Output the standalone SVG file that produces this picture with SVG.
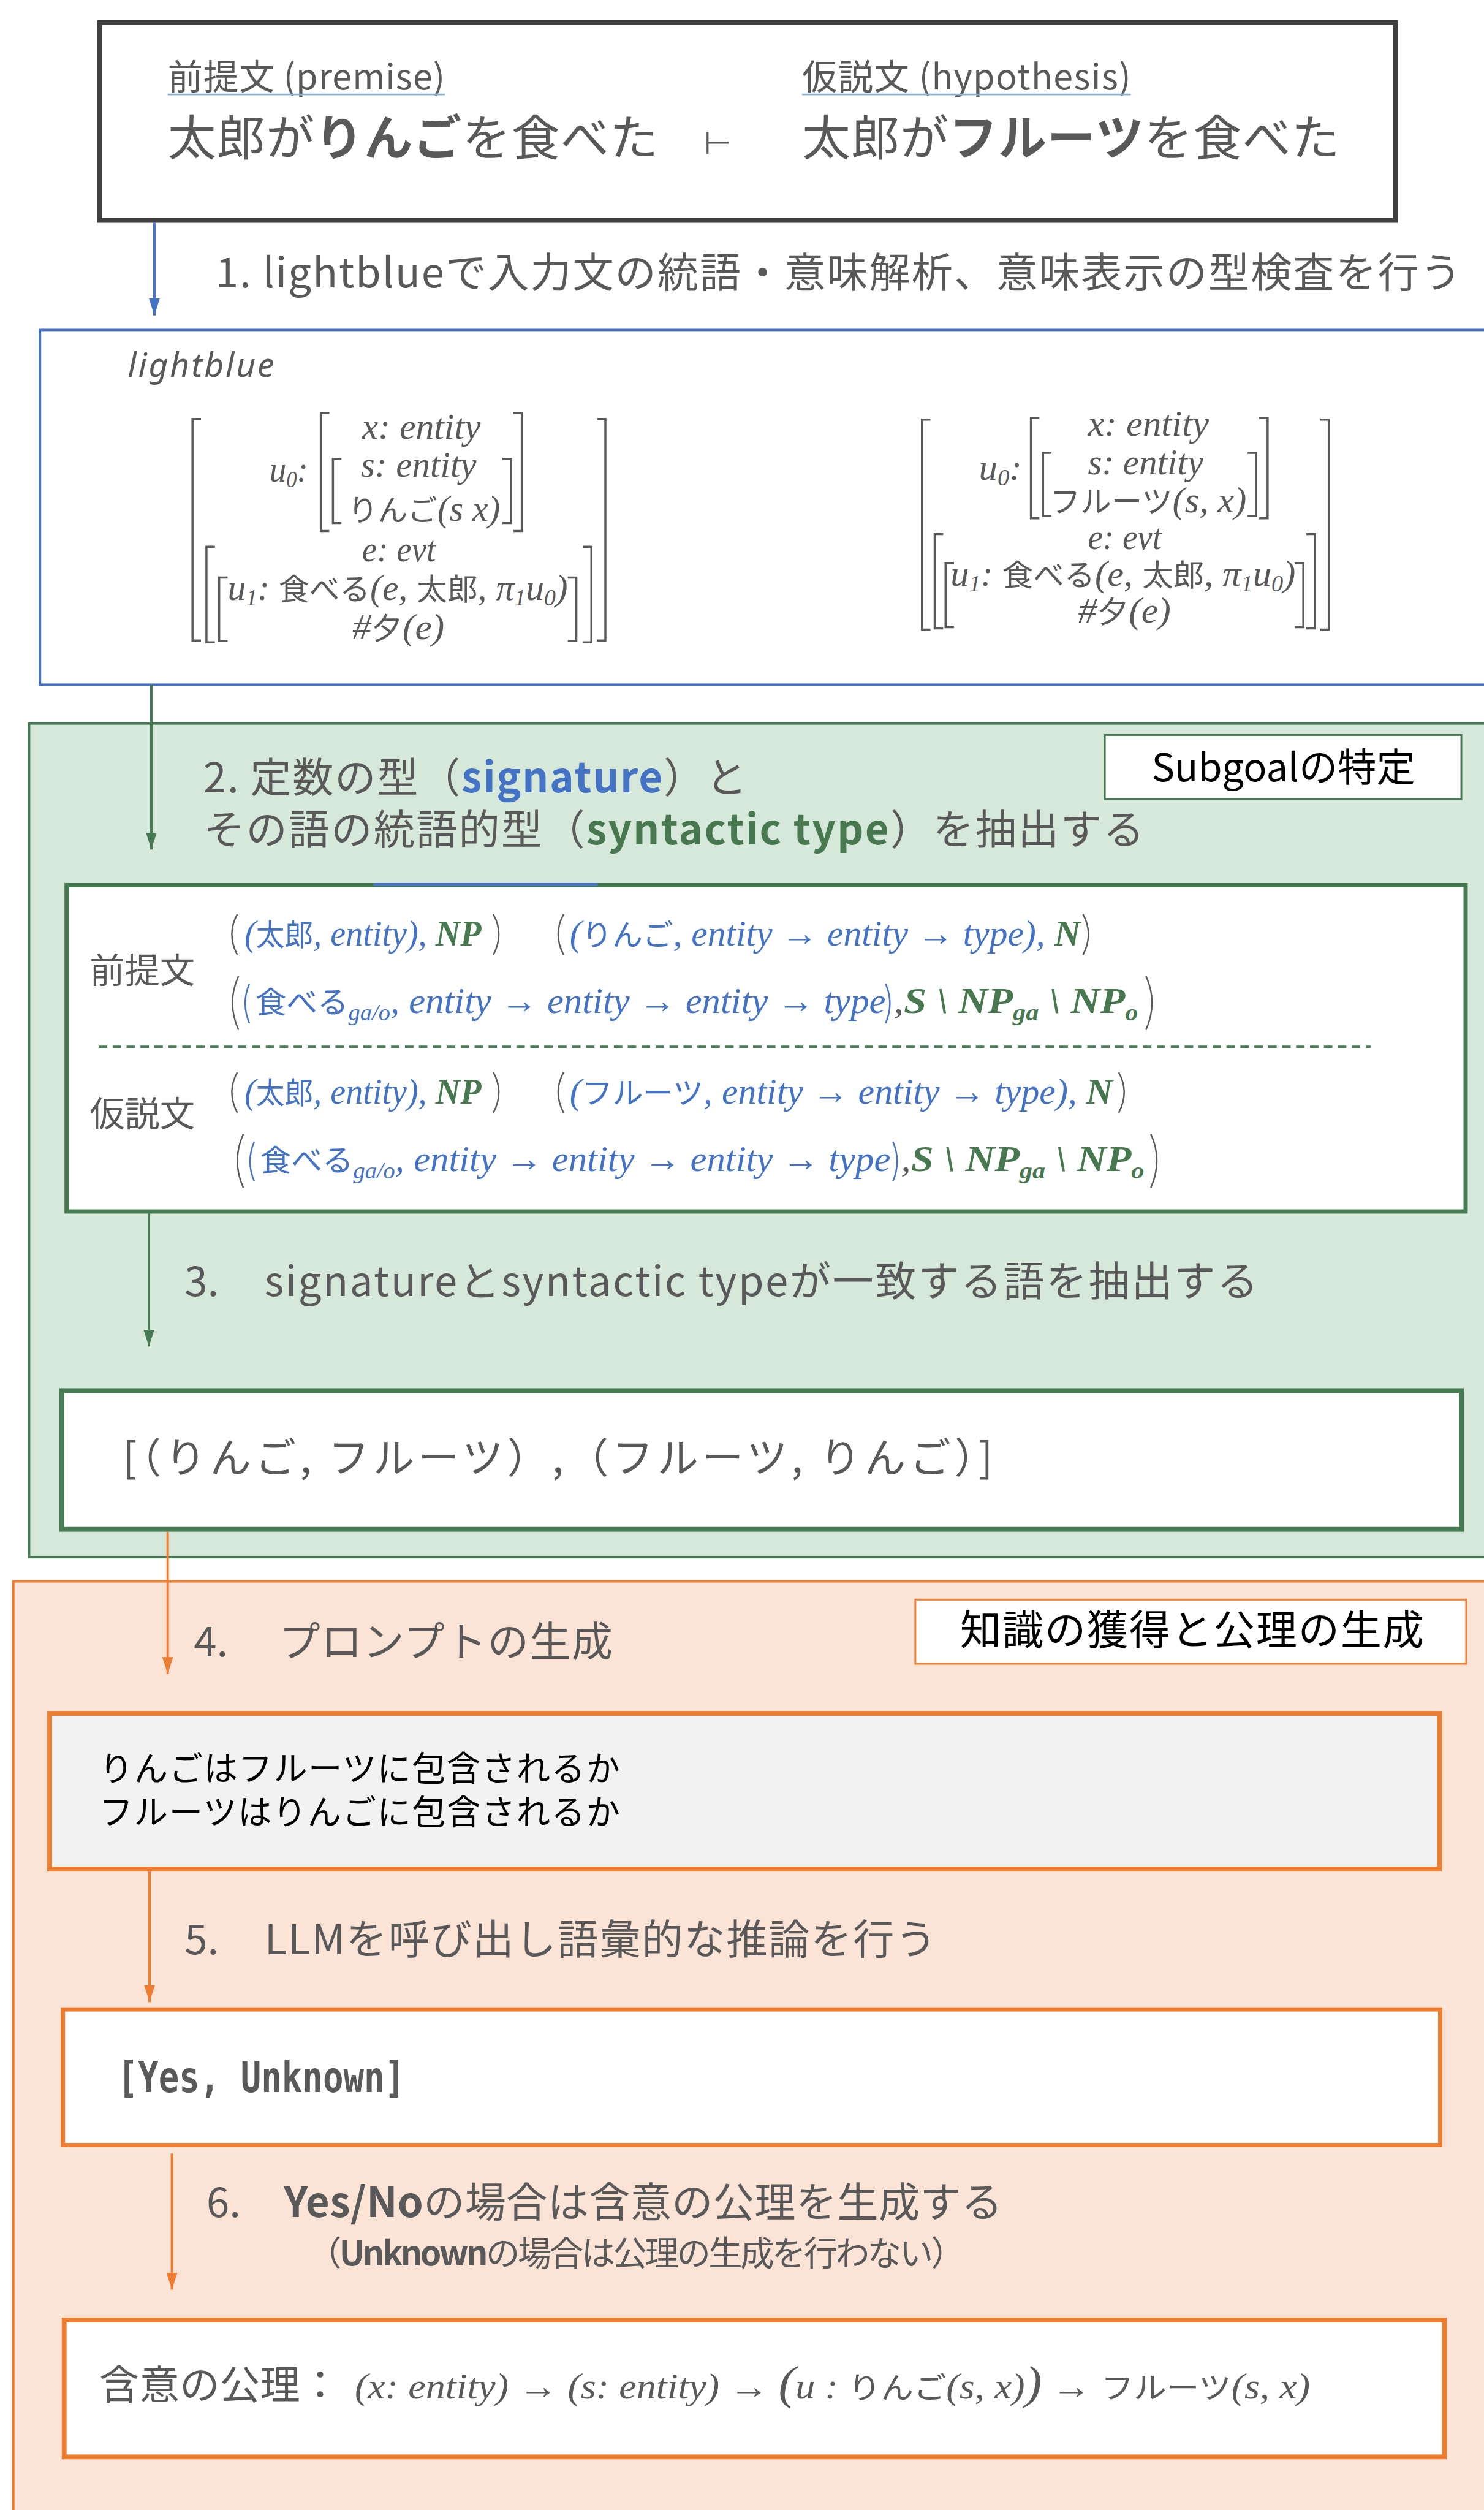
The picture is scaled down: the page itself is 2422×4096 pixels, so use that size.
<svg xmlns="http://www.w3.org/2000/svg" width="2422" height="4096" viewBox="0 0 2422 4096">
<defs>
<style>
.t{font-family:"Noto Sans CJK JP","Noto Sans",sans-serif;fill:#595959}
.k{fill:#000}
.m{font-family:"Liberation Serif","Noto Sans CJK JP",serif;font-style:italic;fill:#595959;font-size:60px}
.mb{fill:#4472c4}
.jp{font-family:"Noto Sans CJK JP",sans-serif;font-style:normal;font-size:50px}
.gb{fill:#47784f;font-weight:bold}
.br{fill:none;stroke:#595959;stroke-width:3.5}
.pb{fill:none;stroke:#595959;stroke-width:2.5}
.pm{fill:none;stroke:#4472c4;stroke-width:2.5}
.c{fill:none;stroke-width:4}
</style>
<marker id="ab" markerUnits="userSpaceOnUse" markerWidth="28" markerHeight="18" refX="28" refY="9" orient="auto"><path d="M0,0 L28,9 L0,18 z" fill="#4472c4"/></marker>
<marker id="ag" markerUnits="userSpaceOnUse" markerWidth="28" markerHeight="18" refX="28" refY="9" orient="auto"><path d="M0,0 L28,9 L0,18 z" fill="#467a55"/></marker>
<marker id="ao" markerUnits="userSpaceOnUse" markerWidth="28" markerHeight="18" refX="28" refY="9" orient="auto"><path d="M0,0 L28,9 L0,18 z" fill="#ed7d31"/></marker>
</defs>
<rect width="2422" height="4096" fill="#fff"/>
<g transform="scale(0.988)">

<g id="sections">
<rect x="48" y="1195" width="2450" height="1377" fill="#d5e8d9" stroke="#467a55" stroke-width="4"/>
<rect x="22" y="2612" width="2500" height="1600" fill="#fbe3d6" stroke="#ed7d31" stroke-width="4"/>
</g>

<g id="sentences">
<rect x="164" y="37" width="2141" height="327" fill="#fff" stroke="#404040" stroke-width="8"/>
<text class="t" x="277" y="148" font-size="58" textLength="458">前提文 (premise)</text>
<line x1="277" y1="156" x2="735" y2="156" stroke="#8eb4d3" stroke-width="3"/>
<text class="t" x="1325" y="148" font-size="58" textLength="543">仮説文 (hypothesis)</text>
<line x1="1325" y1="156" x2="1868" y2="156" stroke="#8eb4d3" stroke-width="3"/>
<text class="t" x="277" y="257" font-size="80" textLength="810">太郎が<tspan font-weight="bold">りんご</tspan>を食べた</text>
<text x="1163" y="254" font-size="52" font-family="DejaVu Sans,sans-serif" fill="#595959">⊢</text>
<text class="t" x="1325" y="257" font-size="80" textLength="888">太郎が<tspan font-weight="bold">フルーツ</tspan>を食べた</text>
</g>

<g id="step1-label">
<text class="t" x="356" y="475" font-size="68" textLength="2058">1. lightblueで入力文の統語・意味解析、意味表示の型検査を行う</text>
</g>

<g id="lightblue">
<rect x="66" y="545" width="2450" height="586" fill="#fff" stroke="#4472c4" stroke-width="4"/>
<text x="211" y="622" font-size="56" font-style="italic" font-family="Noto Sans,sans-serif" fill="#595959" textLength="242">lightblue</text>
<path class="br" d="M332,692 H318 V1058 H332 M986,692 H1000 V1058 H986 M544,682 H530 V877 H544 M848,682 H862 V877 H848 M564,758 H550 V864 H564 M830,758 H844 V864 H830 M355,903 H341 V1061 H355 M963,903 H977 V1061 H963 M376,954 H362 V1059 H376 M938,954 H952 V1059 H938"/>
<text class="m" x="598" y="725" textLength="196" lengthAdjust="spacingAndGlyphs">x: entity</text>
<text class="m" x="445" y="796" textLength="64" lengthAdjust="spacingAndGlyphs">u<tspan font-size="38" dy="9">0</tspan><tspan dy="-9">:</tspan></text>
<text class="m" x="596" y="787" textLength="191" lengthAdjust="spacingAndGlyphs">s: entity</text>
<text class="m" x="575" y="860" textLength="251" lengthAdjust="spacingAndGlyphs"><tspan class="jp">りんご</tspan>(s x)</text>
<text class="m" x="598" y="927" textLength="122" lengthAdjust="spacingAndGlyphs">e: evt</text>
<text class="m" x="376" y="991" textLength="562" lengthAdjust="spacingAndGlyphs">u<tspan font-size="38" dy="9">1</tspan><tspan dy="-9">: </tspan><tspan class="jp">食べる</tspan>(e, <tspan class="jp">太郎</tspan>, π<tspan font-size="38" dy="9">1</tspan><tspan dy="-9">u</tspan><tspan font-size="38" dy="9">0</tspan><tspan dy="-9">)</tspan></text>
<text class="m" x="582" y="1056" textLength="152" lengthAdjust="spacingAndGlyphs">#<tspan class="jp">夕</tspan>(e)</text>

<path class="br" d="M1537,693 H1523 V1040 H1537 M2181,693 H2195 V1040 H2181 M1717,690 H1703 V856 H1717 M2080,690 H2094 V856 H2080 M1737,748 H1723 V852 H1737 M2061,748 H2075 V852 H2061 M1558,882 H1544 V1038 H1558 M2158,882 H2172 V1038 H2158 M1576,930 H1562 V1036 H1576 M2139,930 H2153 V1036 H2139"/>
<text class="m" x="1797" y="720" textLength="200" lengthAdjust="spacingAndGlyphs">x: entity</text>
<text class="m" x="1617" y="793" textLength="71" lengthAdjust="spacingAndGlyphs">u<tspan font-size="38" dy="9">0</tspan><tspan dy="-9">:</tspan></text>
<text class="m" x="1797" y="783" textLength="191" lengthAdjust="spacingAndGlyphs">s: entity</text>
<text class="m" x="1734" y="846" textLength="325" lengthAdjust="spacingAndGlyphs"><tspan class="jp">フルーツ</tspan>(s, x)</text>
<text class="m" x="1797" y="907" textLength="122" lengthAdjust="spacingAndGlyphs">e: evt</text>
<text class="m" x="1570" y="968" textLength="570" lengthAdjust="spacingAndGlyphs">u<tspan font-size="38" dy="9">1</tspan><tspan dy="-9">: </tspan><tspan class="jp">食べる</tspan>(e, <tspan class="jp">太郎</tspan>, π<tspan font-size="38" dy="9">1</tspan><tspan dy="-9">u</tspan><tspan font-size="38" dy="9">0</tspan><tspan dy="-9">)</tspan></text>
<text class="m" x="1781" y="1028" textLength="153" lengthAdjust="spacingAndGlyphs">#<tspan class="jp">夕</tspan>(e)</text>
</g>

<g id="step2-label">
<text class="t" x="336" y="1309" font-size="68" textLength="898">2. 定数の型（<tspan font-weight="bold" fill="#4472c4">signature</tspan>）と</text>
<text class="t" x="336" y="1395" font-size="68" textLength="1554">その語の統語的型（<tspan font-weight="bold" fill="#47784f">syntactic type</tspan>）を抽出する</text>
</g>

<g id="subgoal-tag">
<rect x="1825" y="1214" width="589" height="106" fill="#fff" stroke="#467a55" stroke-width="3"/>
<text class="t k" x="2120" y="1290" font-size="64" text-anchor="middle">Subgoalの特定</text>
</g>

<g id="signatures">
<rect x="110" y="1462" width="2311" height="539" fill="#fff" stroke="#467a52" stroke-width="7"/>
<line x1="617" y1="1461" x2="987" y2="1461" stroke="#4472c4" stroke-width="5"/>
<text class="t" x="148" y="1623" font-size="58">前提文</text>
<text class="t" x="148" y="1860" font-size="58">仮説文</text>
<line x1="163" y1="1729" x2="2264" y2="1729" stroke="#467a52" stroke-width="4" stroke-dasharray="14 9"/>

<path class="pb" d="M392,1510 Q374,1543 392,1577 M815,1510 Q833,1543 815,1577 M931,1510 Q913,1543 931,1577 M1789,1510 Q1807,1543 1789,1577"/>
<text class="m mb" x="404" y="1562" textLength="391" lengthAdjust="spacingAndGlyphs">(<tspan class="jp">太郎</tspan>, entity), <tspan class="gb">NP</tspan></text>
<text class="m mb" x="941" y="1562" textLength="844" lengthAdjust="spacingAndGlyphs">(<tspan class="jp">りんご</tspan>, entity → entity → type), <tspan class="gb">N</tspan></text>

<path class="pb" d="M394,1612 Q374,1656 394,1701 M1893,1612 Q1913,1656 1893,1701"/>
<path class="pm" d="M412,1625 Q398,1657 412,1690 M1463,1625 Q1477,1657 1463,1690"/>
<text class="m mb" x="422" y="1673" textLength="1041" lengthAdjust="spacingAndGlyphs"><tspan class="jp" font-size="54">食べる</tspan><tspan font-size="38" dy="12">ga/o</tspan><tspan dy="-12">, entity → entity → entity → type</tspan></text>
<text class="m" x="1476" y="1673" textLength="404" lengthAdjust="spacingAndGlyphs">,<tspan class="gb">S \ NP</tspan><tspan class="gb" font-size="38" dy="12">ga</tspan><tspan class="gb" dy="-12"> \ NP</tspan><tspan class="gb" font-size="38" dy="12">o</tspan></text>

<path class="pb" d="M392,1771 Q374,1804 392,1838 M815,1771 Q833,1804 815,1838 M931,1771 Q913,1804 931,1838 M1848,1771 Q1866,1804 1848,1838"/>
<text class="m mb" x="404" y="1823" textLength="391" lengthAdjust="spacingAndGlyphs">(<tspan class="jp">太郎</tspan>, entity), <tspan class="gb">NP</tspan></text>
<text class="m mb" x="941" y="1823" textLength="897" lengthAdjust="spacingAndGlyphs">(<tspan class="jp">フルーツ</tspan>, entity → entity → type), <tspan class="gb">N</tspan></text>

<path class="pb" d="M402,1873 Q382,1917 402,1962 M1901,1873 Q1921,1917 1901,1962"/>
<path class="pm" d="M420,1886 Q406,1918 420,1951 M1475,1886 Q1489,1918 1475,1951"/>
<text class="m mb" x="430" y="1934" textLength="1041" lengthAdjust="spacingAndGlyphs"><tspan class="jp" font-size="54">食べる</tspan><tspan font-size="38" dy="12">ga/o</tspan><tspan dy="-12">, entity → entity → entity → type</tspan></text>
<text class="m" x="1488" y="1934" textLength="402" lengthAdjust="spacingAndGlyphs">,<tspan class="gb">S \ NP</tspan><tspan class="gb" font-size="38" dy="12">ga</tspan><tspan class="gb" dy="-12"> \ NP</tspan><tspan class="gb" font-size="38" dy="12">o</tspan></text>
</g>

<g id="step3-label">
<text class="t" x="305" y="2141" font-size="68">3.</text>
<text class="t" x="437" y="2141" font-size="68" textLength="1641">signatureとsyntactic typeが一致する語を抽出する</text>
</g>

<g id="matches">
<rect x="102" y="2297" width="2312" height="229" fill="#fff" stroke="#467a52" stroke-width="8"/>
<text class="t" x="203" y="2432" font-size="68" textLength="1437">[（りんご, フルーツ）,（フルーツ, りんご）]</text>
</g>

<g id="knowledge-tag">
<rect x="1512" y="2642" width="910" height="106" fill="#fff" stroke="#ed7d31" stroke-width="3"/>
<text class="t k" x="1586" y="2717" font-size="68" textLength="766">知識の獲得と公理の生成</text>
</g>

<g id="step4-label">
<text class="t" x="320" y="2736" font-size="68">4.</text>
<text class="t" x="461" y="2736" font-size="68" textLength="551">プロンプトの生成</text>
</g>

<g id="prompt">
<rect x="82" y="2830" width="2296" height="257" fill="#f2f2f2" stroke="#ed7d31" stroke-width="8"/>
<text class="t k" x="164" y="2941" font-size="56" textLength="860">りんごはフルーツに包含されるか</text>
<text class="t k" x="164" y="3013" font-size="56" textLength="860">フルーツはりんごに包含されるか</text>
</g>

<g id="step5-label">
<text class="t" x="305" y="3228" font-size="68">5.</text>
<text class="t" x="437" y="3228" font-size="68" textLength="1110">LLMを呼び出し語彙的な推論を行う</text>
</g>

<g id="llm-answer">
<rect x="104" y="3319" width="2275" height="224" fill="#fff" stroke="#ed7d31" stroke-width="7"/>
<text x="194" y="3455" font-size="70" font-weight="bold" font-family="DejaVu Sans Mono,monospace" fill="#595959" textLength="475" lengthAdjust="spacingAndGlyphs">[Yes, Unknown]</text>
</g>

<g id="step6-label">
<text class="t" x="341" y="3662" font-size="68">6.</text>
<text class="t" x="469" y="3662" font-size="68" textLength="1187"><tspan font-weight="bold">Yes/No</tspan>の場合は含意の公理を生成する</text>
<text class="t" x="508" y="3742" font-size="56" textLength="1086">（<tspan font-weight="bold">Unknown</tspan>の場合は公理の生成を行わない）</text>
</g>

<g id="axiom">
<rect x="106" y="3832" width="2280" height="226" fill="#fff" stroke="#ed7d31" stroke-width="8"/>
<text class="t" x="164" y="3963" font-size="66" textLength="398">含意の公理：</text>
<text class="m" x="586" y="3962" font-size="64" textLength="1578" lengthAdjust="spacingAndGlyphs">(x: entity) → (s: entity) → <tspan font-size="78">(</tspan>u : <tspan class="jp" font-size="56">りんご</tspan>(s, x)<tspan font-size="78">)</tspan> → <tspan class="jp" font-size="56">フルーツ</tspan>(s, x)</text>
</g>

<g id="connectors">
<line class="c" x1="255" y1="368" x2="255" y2="521" stroke="#4472c4" marker-end="url(#ab)"/>
<line class="c" x1="250" y1="1131" x2="250" y2="1403" stroke="#467a55" marker-end="url(#ag)"/>
<line class="c" x1="246" y1="2004" x2="246" y2="2224" stroke="#467a55" marker-end="url(#ag)"/>
<line class="c" x1="277" y1="2530" x2="277" y2="2765" stroke="#ed7d31" marker-end="url(#ao)"/>
<line class="c" x1="247" y1="3091" x2="247" y2="3307" stroke="#ed7d31" marker-end="url(#ao)"/>
<line class="c" x1="284" y1="3557" x2="284" y2="3782" stroke="#ed7d31" marker-end="url(#ao)"/>
</g>

</g>
</svg>
